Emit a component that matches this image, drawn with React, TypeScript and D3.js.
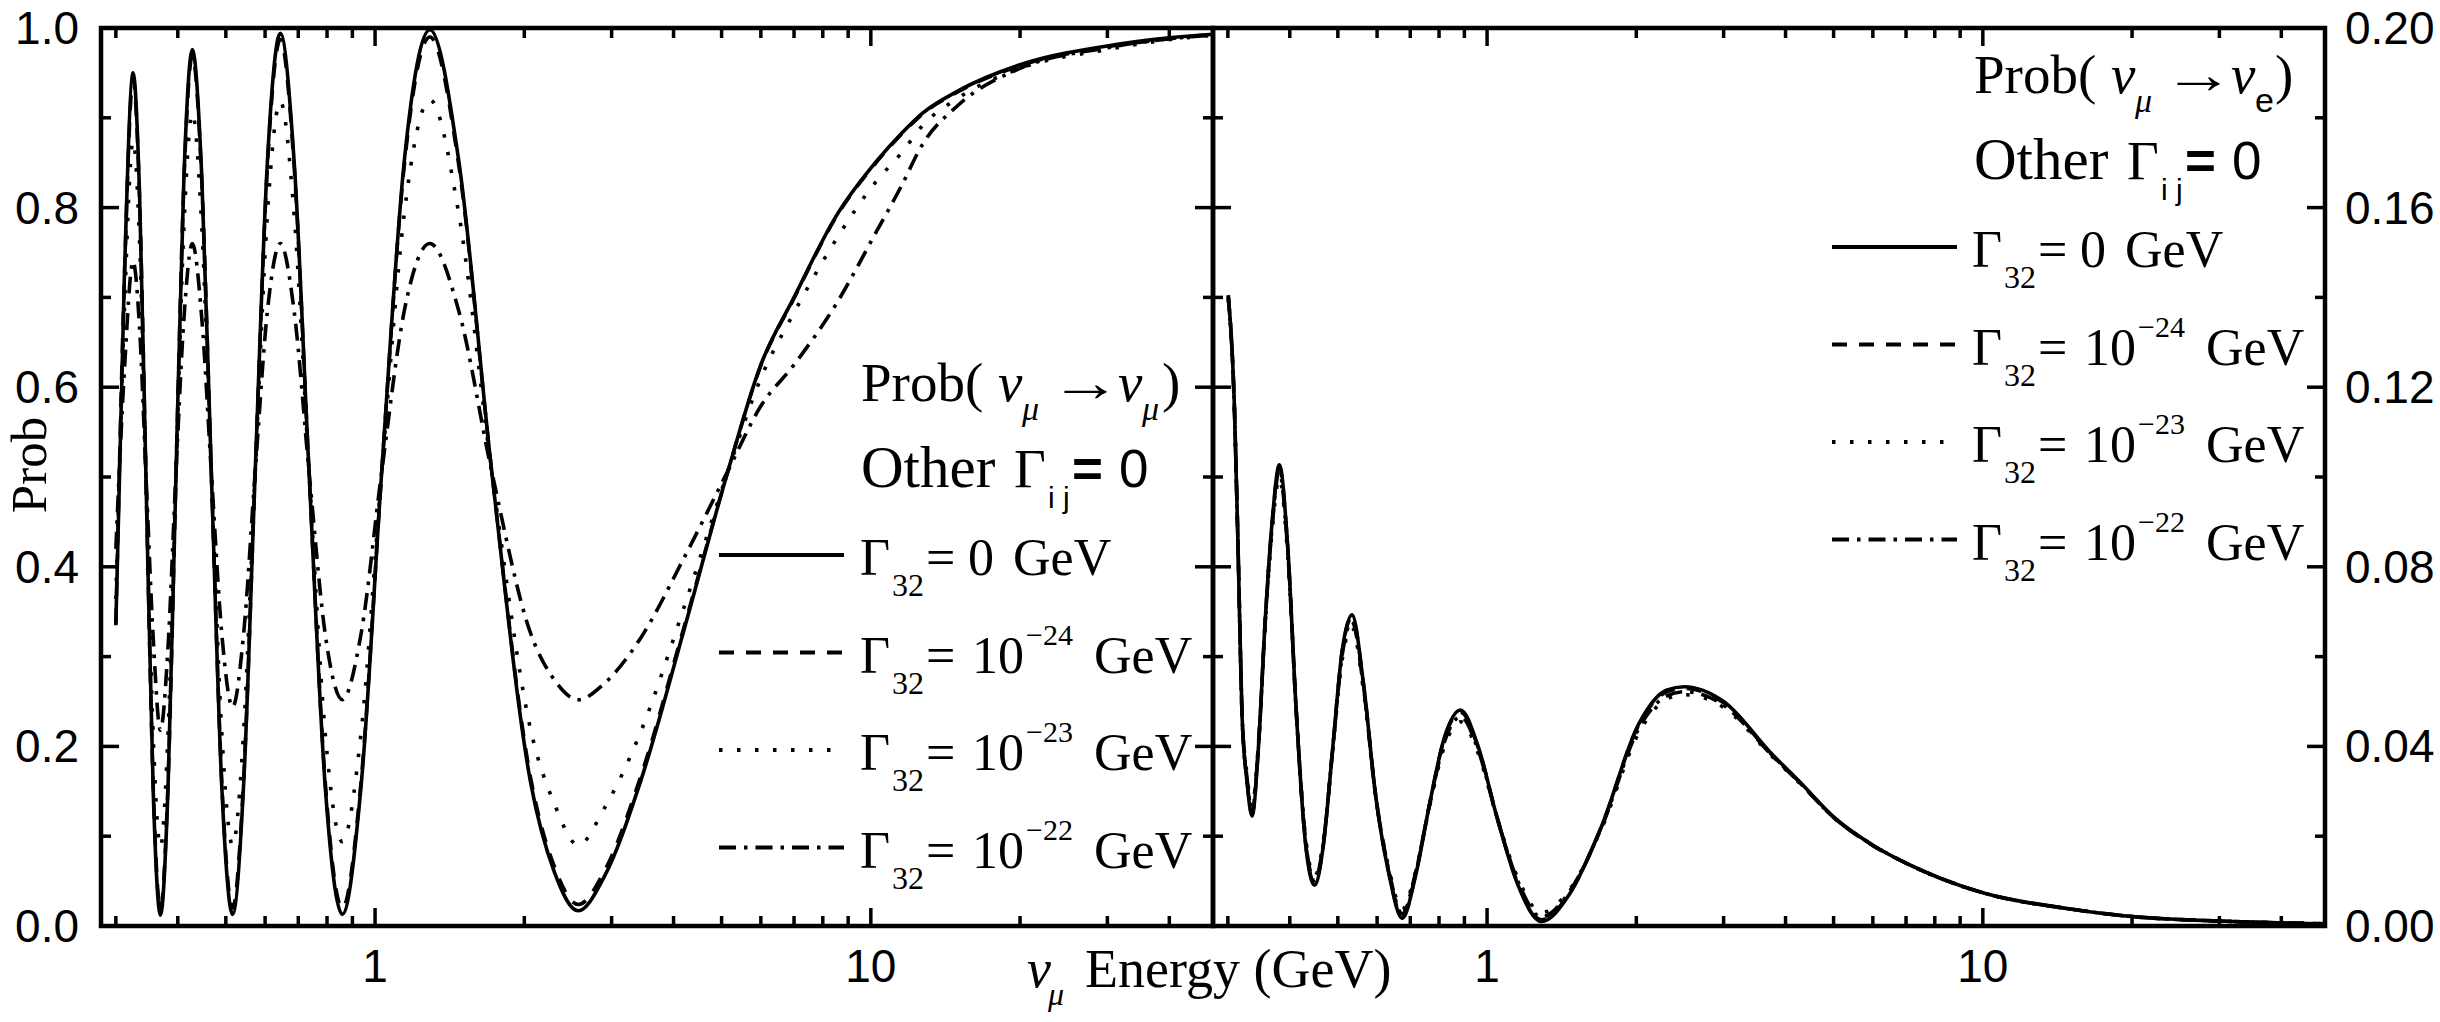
import React, { useEffect } from 'react';
import * as d3 from 'd3';

// ---------------- data ----------------
const energyDomain = [0.28, 49];

// Left panel: Prob(nu_mu -> nu_mu)
const energyL = [0.3, 0.312, 0.325, 0.335, 0.3456, 0.3569, 0.369, 0.3822, 0.3963, 0.4116,
  0.428, 0.4471, 0.468, 0.4908, 0.516, 0.543, 0.5729, 0.6063, 0.644, 0.6869,
  0.7361, 0.7929, 0.859, 0.9374, 1.0313, 1.1463, 1.29, 1.4734, 1.7177, 2.0593,
  2.3, 2.57, 2.9, 3.427, 4.2, 5.14, 6.0, 7.0, 8.5, 10.28,
  11.5, 12.7, 15, 20, 30, 40, 49];
const probSolidL = [0.335, 0.72, 0.95, 0.813, 0.481, 0.149, 0.012, 0.153, 0.494, 0.835,
  0.976, 0.835, 0.495, 0.154, 0.013, 0.157, 0.504, 0.85, 0.994, 0.85,
  0.504, 0.157, 0.013, 0.157, 0.506, 0.854, 0.998, 0.854, 0.508, 0.16,
  0.06, 0.017, 0.055, 0.16, 0.33, 0.505, 0.625, 0.70, 0.79, 0.852,
  0.882, 0.905, 0.93, 0.959, 0.98, 0.989, 0.993];
const probDashL = [0.337, 0.717, 0.943, 0.808, 0.481, 0.154, 0.019, 0.158, 0.494, 0.83,
  0.969, 0.83, 0.495, 0.159, 0.02, 0.162, 0.504, 0.845, 0.987, 0.845,
  0.504, 0.162, 0.02, 0.162, 0.506, 0.849, 0.99, 0.849, 0.508, 0.165,
  0.066, 0.024, 0.061, 0.165, 0.333, 0.505, 0.624, 0.699, 0.789, 0.851,
  0.881, 0.904, 0.929, 0.958, 0.979, 0.988, 0.993];
const probDotL = [0.364, 0.683, 0.874, 0.761, 0.485, 0.21, 0.088, 0.213, 0.496, 0.779,
  0.905, 0.779, 0.496, 0.214, 0.09, 0.216, 0.505, 0.791, 0.918, 0.791,
  0.505, 0.216, 0.094, 0.216, 0.506, 0.795, 0.92, 0.795, 0.507, 0.219,
  0.136, 0.09, 0.131, 0.215, 0.355, 0.505, 0.61, 0.683, 0.764, 0.83,
  0.86, 0.891, 0.922, 0.955, 0.976, 0.987, 0.992];
const probDashDotL = [0.42, 0.617, 0.74, 0.665, 0.493, 0.32, 0.218, 0.31, 0.5, 0.677,
  0.76, 0.677, 0.5, 0.325, 0.244, 0.325, 0.505, 0.684, 0.76, 0.684,
  0.505, 0.326, 0.252, 0.326, 0.506, 0.686, 0.76, 0.686, 0.507, 0.326,
  0.274, 0.252, 0.27, 0.32, 0.41, 0.506, 0.579, 0.625, 0.692, 0.774,
  0.823, 0.87, 0.914, 0.955, 0.978, 0.988, 0.992];

// Right panel: Prob(nu_mu -> nu_e)
const energyR = [0.3006, 0.309, 0.3146, 0.3204, 0.328, 0.3356, 0.3459, 0.3568, 0.3685, 0.381,
  0.3959, 0.4121, 0.4297, 0.4488, 0.4675, 0.4877, 0.5097, 0.534, 0.5632, 0.596,
  0.6327, 0.6744, 0.7168, 0.7651, 0.8203, 0.884, 0.9592, 1.0482, 1.1554, 1.287,
  1.4646, 1.6992, 2.0231, 2.3, 2.5, 3.0, 3.74, 4.28, 5.0, 6.0,
  7.0, 10, 15, 20, 30, 49];
const probSolidR = [0.1405, 0.117, 0.084, 0.047, 0.032, 0.0245, 0.040, 0.068, 0.090, 0.1027,
  0.085, 0.048, 0.019, 0.0091, 0.018, 0.039, 0.061, 0.0693, 0.054, 0.029,
  0.012, 0.0017, 0.011, 0.027, 0.042, 0.0481, 0.040, 0.024, 0.009, 0.001,
  0.007, 0.022, 0.045, 0.0525, 0.0533, 0.050, 0.0385, 0.032, 0.0243, 0.018,
  0.014, 0.0074, 0.0038, 0.0021, 0.0011, 0.0005];
const probDashR = [0.1403, 0.1168, 0.0841, 0.0472, 0.0323, 0.0249, 0.0402, 0.0679, 0.0897, 0.1022,
  0.0848, 0.0481, 0.0193, 0.0095, 0.0182, 0.039, 0.0608, 0.0688, 0.0539, 0.0291,
  0.0123, 0.0021, 0.0113, 0.027, 0.0418, 0.0476, 0.0398, 0.0241, 0.0093, 0.0014,
  0.0072, 0.022, 0.0448, 0.0521, 0.0529, 0.0497, 0.0383, 0.0319, 0.0242, 0.0179,
  0.014, 0.0074, 0.0038, 0.0021, 0.0011, 0.0005];
const probDotR = [0.1395, 0.116, 0.084, 0.048, 0.0335, 0.0265, 0.041, 0.067, 0.088, 0.0997,
  0.083, 0.048, 0.0205, 0.0111, 0.019, 0.0385, 0.059, 0.0665, 0.0525, 0.029,
  0.0132, 0.0037, 0.012, 0.0265, 0.04, 0.0455, 0.0385, 0.024, 0.0105, 0.003,
  0.008, 0.0215, 0.043, 0.0505, 0.0515, 0.0487, 0.038, 0.0317, 0.0242, 0.018,
  0.014, 0.0074, 0.0038, 0.0021, 0.0011, 0.0005];
const probDashDotR = [0.14, 0.1165, 0.084, 0.0475, 0.0328, 0.0255, 0.0405, 0.0675, 0.089, 0.1012,
  0.084, 0.048, 0.0198, 0.0101, 0.0186, 0.0388, 0.06, 0.0678, 0.0532, 0.029,
  0.0127, 0.0027, 0.0117, 0.0268, 0.041, 0.0466, 0.0392, 0.024, 0.0098, 0.002,
  0.0076, 0.0218, 0.044, 0.0512, 0.0522, 0.0492, 0.0382, 0.0318, 0.0242, 0.018,
  0.014, 0.0074, 0.0038, 0.0021, 0.0011, 0.0005];

// ticks
const xMajorTicks = [1, 10];
const xTickLabels = ['1', '10'];
const xMinorTicks = [0.3, 0.4, 0.5, 0.6, 0.7, 0.8, 0.9, 2, 3, 4, 5, 6, 7, 8, 9, 20, 30, 40];
const yLeftMajor = [0, 0.2, 0.4, 0.6, 0.8, 1.0];
const yLeftLabels = ['0.0', '0.2', '0.4', '0.6', '0.8', '1.0'];
const yLeftMinor = [0.1, 0.3, 0.5, 0.7, 0.9];
const yRightMajor = [0, 0.04, 0.08, 0.12, 0.16, 0.2];
const yRightLabels = ['0.00', '0.04', '0.08', '0.12', '0.16', '0.20'];
const yRightMinor = [0.02, 0.06, 0.1, 0.14, 0.18];

// legend
const legendExponents = ['', '−24', '−23', '−22'];
const leftTitleSub = 'μ';
const rightTitleSub = 'e';

// ---------------- styling ----------------
const SERIF = '"Liberation Serif", "Times New Roman", "DejaVu Serif", serif';
const SANS = '"Liberation Sans", Arial, "DejaVu Sans", sans-serif';
const DASHES = ['none', '15,12', '3.5,14.5', '17,8,3.5,8'];
const TOP = 28;
const BOTTOM = 926;
const MAJOR = 18;
const MINOR = 10;

type PanelProps = {
  x0: number;
  x1: number;
  yMax: number;
  energies: number[];
  series: number[][];
  yMajor: number[];
  yMinor: number[];
  yLabels: string[];
  labelSide: 'left' | 'right';
  clipId: string;
};

function Panel(p: PanelProps) {
  const x = d3.scaleLog().domain(energyDomain).range([p.x0, p.x1]);
  const y = d3.scaleLinear().domain([0, p.yMax]).range([BOTTOM, TOP]);
  const line = d3
    .line<[number, number]>()
    .x((d) => x(d[0]))
    .y((d) => y(d[1]))
    .curve(d3.curveMonotoneX);
  const tick = (k: string, x1: number, y1: number, x2: number, y2: number) => (
    <line key={k} x1={x1} y1={y1} x2={x2} y2={y2} stroke="#000" strokeWidth={3.5} />
  );
  const ticks: React.ReactNode[] = [];
  xMajorTicks.forEach((v, i) => {
    ticks.push(tick('xb' + i, x(v), BOTTOM, x(v), BOTTOM - MAJOR));
    ticks.push(tick('xt' + i, x(v), TOP, x(v), TOP + MAJOR));
  });
  xMinorTicks.forEach((v, i) => {
    ticks.push(tick('xbm' + i, x(v), BOTTOM, x(v), BOTTOM - MINOR));
    ticks.push(tick('xtm' + i, x(v), TOP, x(v), TOP + MINOR));
  });
  p.yMajor.forEach((v, i) => {
    ticks.push(tick('yl' + i, p.x0, y(v), p.x0 + MAJOR, y(v)));
    ticks.push(tick('yr' + i, p.x1, y(v), p.x1 - MAJOR, y(v)));
  });
  p.yMinor.forEach((v, i) => {
    ticks.push(tick('ylm' + i, p.x0, y(v), p.x0 + MINOR, y(v)));
    ticks.push(tick('yrm' + i, p.x1, y(v), p.x1 - MINOR, y(v)));
  });
  return (
    <g>
      <defs>
        <clipPath id={p.clipId}>
          <rect x={p.x0} y={TOP} width={p.x1 - p.x0} height={BOTTOM - TOP} />
        </clipPath>
      </defs>
      <g clipPath={`url(#${p.clipId})`}>
        {p.series.map((vals, si) => (
          <path
            key={si}
            d={line(p.energies.map((e, i) => [e, vals[i]] as [number, number])) || ''}
            fill="none"
            stroke="#000"
            strokeWidth={3.6}
            strokeDasharray={DASHES[si]}
          />
        ))}
      </g>
      {ticks}
      <rect x={p.x0} y={TOP} width={p.x1 - p.x0} height={BOTTOM - TOP} fill="none" stroke="#000" strokeWidth={4.5} />
      {xMajorTicks.map((v, i) => (
        <text key={'xl' + i} x={x(v)} y={982} textAnchor="middle" fontFamily={SANS} fontSize={46}>
          {xTickLabels[i]}
        </text>
      ))}
      {p.yMajor.map((v, i) => (
        <text
          key={'ylab' + i}
          x={p.labelSide === 'left' ? p.x0 - 22 : p.x1 + 20}
          y={y(v) + 16}
          textAnchor={p.labelSide === 'left' ? 'end' : 'start'}
          fontFamily={SANS}
          fontSize={46}
        >
          {p.yLabels[i]}
        </text>
      ))}
    </g>
  );
}

function Title({ x0, y0, sub, subSans }: { x0: number; y0: number; sub: string; subSans: boolean }) {
  return (
    <g fontFamily={SERIF} fontSize={55}>
      <text x={x0} y={y0}>Prob(</text>
      <text x={x0 + 137} y={y0} fontStyle="italic">ν</text>
      <text x={x0 + 161} y={y0 + 19} fontStyle="italic" fontSize={34}>μ</text>
      <text transform={`translate(${x0 + 189},${y0}) scale(1.3,1)`}>→</text>
      <text x={x0 + 257} y={y0} fontStyle="italic">ν</text>
      <text
        x={x0 + 281}
        y={y0 + 19}
        fontStyle={subSans ? 'normal' : 'italic'}
        fontFamily={subSans ? SANS : SERIF}
        fontSize={34}
      >
        {sub}
      </text>
      <text x={x0 + 301} y={y0}>)</text>
      <text x={x0} y={y0 + 86} fontSize={59}>Other</text>
      <text x={x0 + 153} y={y0 + 86}>Γ</text>
      <text x={x0 + 187} y={y0 + 107} fontFamily={SANS} fontSize={30} style={{ whiteSpace: 'pre' }}>i j</text>
      <text x={x0 + 211} y={y0 + 86} fontFamily={SANS} fontSize={53} fontWeight="bold">=</text>
      <text x={x0 + 258} y={y0 + 86} fontFamily={SANS} fontSize={53}>0</text>
    </g>
  );
}

function Legend({ lineX0, textX0, y0 }: { lineX0: number; textX0: number; y0: number }) {
  const rowGap = 97.5;
  return (
    <g fontFamily={SERIF} fontSize={52}>
      {legendExponents.map((exp, i) => {
        const base = y0 + i * rowGap;
        return (
          <g key={i}>
            <line
              x1={lineX0}
              x2={lineX0 + 125}
              y1={base - 20}
              y2={base - 20}
              stroke="#000"
              strokeWidth={4}
              strokeDasharray={DASHES[i]}
            />
            <text x={textX0} y={base}>Γ</text>
            <text x={textX0 + 32} y={base + 21} fontSize={32}>32</text>
            <text x={textX0 + 66} y={base}>=</text>
            {exp === '' ? (
              <>
                <text x={textX0 + 108} y={base}>0</text>
                <text x={textX0 + 153} y={base}>GeV</text>
              </>
            ) : (
              <>
                <text x={textX0 + 112} y={base}>10</text>
                <text x={textX0 + 166} y={base - 28} fontSize={30}>{exp}</text>
                <text x={textX0 + 234} y={base}>GeV</text>
              </>
            )}
          </g>
        );
      })}
    </g>
  );
}

export default function App() {
  useEffect(() => {
    document.body.style.margin = '0';
  }, []);
  return (
    <svg
      width={2440}
      height={1022}
      viewBox="0 0 2440 1022"
      style={{ position: 'absolute', left: 0, top: 0, background: '#fff' }}
    >
      <rect x={0} y={0} width={2440} height={1022} fill="#fff" />
      <Panel
        x0={101}
        x1={1213}
        yMax={1}
        energies={energyL}
        series={[probSolidL, probDashL, probDotL, probDashDotL]}
        yMajor={yLeftMajor}
        yMinor={yLeftMinor}
        yLabels={yLeftLabels}
        labelSide="left"
        clipId="clipL"
      />
      <Panel
        x0={1213}
        x1={2325}
        yMax={0.2}
        energies={energyR}
        series={[probSolidR, probDashR, probDotR, probDashDotR]}
        yMajor={yRightMajor}
        yMinor={yRightMinor}
        yLabels={yRightLabels}
        labelSide="right"
        clipId="clipR"
      />
      {/* legends */}
      <Title x0={861} y0={401} sub={leftTitleSub} subSans={false} />
      <Legend lineX0={719} textX0={860} y0={575} />
      <Title x0={1974} y0={93} sub={rightTitleSub} subSans={true} />
      <Legend lineX0={1832} textX0={1972} y0={267} />
      {/* axis titles */}
      <text x={46} y={465} transform="rotate(-90 46 465)" textAnchor="middle" fontFamily={SERIF} fontSize={51}>
        Prob
      </text>
      <g fontFamily={SERIF} fontSize={54}>
        <text x={1027} y={987} fontStyle="italic">ν</text>
        <text x={1048} y={1005} fontStyle="italic" fontSize={32}>μ</text>
        <text x={1085} y={987}>Energy (GeV)</text>
      </g>
    </svg>
  );
}
